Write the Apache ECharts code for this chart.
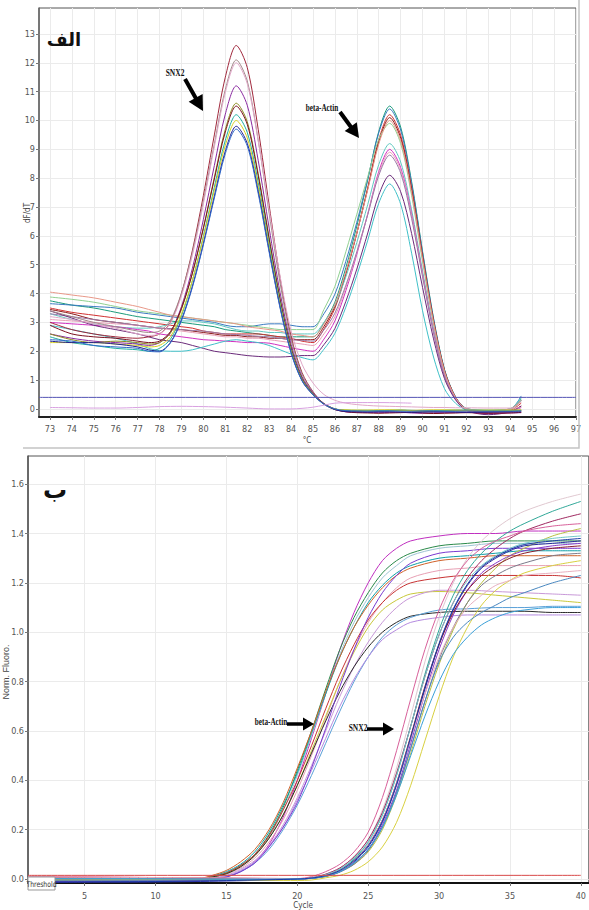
<!DOCTYPE html>
<html>
<head>
<meta charset="utf-8">
<script src="https://cdn.jsdelivr.net/npm/echarts@6/dist/echarts.min.js"></script>
<style>
html,body{margin:0;padding:0;background:#fff;}
#chart{width:589px;height:910px;}
</style>
</head>
<body>
<div id="chart"></div>
<script>
// ---------- Panel A (melt curve): temperatures and dF/dT values ----------
const meltTemps = [73,74,75,76,77,77.5,78,78.5,79,79.5,80,80.5,81,81.5,82,82.5,83,83.5,84,84.5,85,85.5,86,86.5,87,87.5,88,88.5,89,89.5,90,90.5,91,91.5,92,93,94,94.5];

const meltSnx2_1 = [3.0,2.75,2.6,2.5,2.45,2.5,2.6,3.0,4.0,5.5,7.4,9.5,11.5,12.6,11.84,9.7,7.06,4.54,2.52,1.26,0.6,0.18,0.0,-0.05,-0.06,-0.06,-0.07,-0.06,-0.05,-0.06,-0.08,-0.08,-0.07,-0.06,-0.06,-0.08,-0.07,-0.06];
const meltSnx2_2 = [3.4,3.2,3.0,2.85,2.7,2.65,2.7,3.08,4.02,5.43,7.21,9.19,11.07,12.1,11.37,9.32,6.78,4.36,2.42,1.21,0.58,0.17,-0.02,-0.08,-0.1,-0.1,-0.09,-0.1,-0.11,-0.1,-0.1,-0.12,-0.11,-0.1,-0.1,-0.12,-0.12,-0.1];
const meltSnx2_3 = [3.2,3.1,2.95,2.8,2.6,2.55,2.6,2.98,3.92,5.33,7.11,9.09,10.97,12.0,11.28,9.3,6.9,4.6,2.7,1.55,0.9,0.5,0.3,0.2,0.15,0.12,0.1,0.09,0.08,0.07,0.06,0.05,0.05,0.04,0.04,0.03,0.03,0.04];
const meltSnx2_4 = [2.6,2.45,2.35,2.3,2.25,2.2,2.3,2.66,3.55,4.88,6.57,8.44,10.22,11.2,10.53,8.62,6.27,4.03,2.24,1.12,0.56,0.19,0.0,-0.1,-0.12,-0.12,-0.13,-0.12,-0.12,-0.14,-0.15,-0.14,-0.13,-0.13,-0.12,-0.15,-0.14,-0.13];
const meltSnx2_5 = [2.6,2.4,2.3,2.35,2.3,2.25,2.3,2.63,3.46,4.71,6.28,8.03,9.69,10.6,9.96,8.16,5.94,3.82,2.12,1.06,0.53,0.18,0.0,-0.06,-0.07,-0.07,-0.06,-0.05,-0.05,-0.06,-0.07,-0.07,-0.06,-0.05,-0.05,-0.06,-0.06,-0.05];
const meltSnx2_6 = [2.9,2.6,2.5,2.45,2.35,2.3,2.35,2.68,3.49,4.71,6.26,7.97,9.6,10.5,9.87,8.09,5.88,3.78,2.1,1.05,0.52,0.17,-0.02,-0.1,-0.13,-0.14,-0.15,-0.14,-0.13,-0.12,-0.14,-0.16,-0.15,-0.14,-0.13,-0.15,-0.14,-0.12];
const meltSnx2_7 = [2.5,2.3,2.2,2.1,2.05,2.0,2.1,2.42,3.23,4.45,5.99,7.69,9.31,10.2,9.59,7.85,5.71,3.67,2.04,1.02,0.51,0.17,0.0,-0.04,-0.05,-0.05,-0.06,-0.05,-0.04,-0.05,-0.06,-0.06,-0.05,-0.04,-0.04,-0.05,-0.05,-0.04];
const meltSnx2_8 = [2.3,2.3,2.3,2.25,2.2,2.15,2.2,2.51,3.29,4.46,5.94,7.58,9.14,10.0,9.4,7.7,5.6,3.6,2.0,1.0,0.5,0.17,0.0,-0.03,-0.04,-0.04,-0.03,-0.03,-0.04,-0.05,-0.04,-0.03,-0.03,-0.04,-0.05,-0.04,-0.04,-0.03];
const meltSnx2_9 = [2.35,2.3,2.3,2.25,2.15,2.05,2.0,2.31,3.09,4.26,5.74,7.38,8.94,9.8,9.21,7.55,5.49,3.53,1.96,0.98,0.49,0.17,-0.02,-0.09,-0.1,-0.11,-0.1,-0.1,-0.11,-0.12,-0.11,-0.1,-0.1,-0.11,-0.12,-0.11,-0.1,-0.1];
const meltSnx2_10 = [2.4,2.35,2.2,2.15,2.1,2.0,1.98,2.29,3.06,4.22,5.69,7.31,8.85,9.7,9.12,7.47,5.43,3.49,1.94,0.97,0.49,0.16,0.0,-0.06,-0.07,-0.08,-0.07,-0.07,-0.08,-0.08,-0.07,-0.07,-0.08,-0.08,-0.07,-0.08,-0.08,-0.07];

const meltActin_1 = [3.75,3.6,3.5,3.35,3.2,3.15,3.1,3.05,3.0,2.95,2.9,2.85,2.75,2.7,2.65,2.6,2.55,2.5,2.5,2.5,2.5,2.98,3.7,4.9,6.34,7.94,9.62,10.5,9.77,7.88,5.46,3.15,1.37,0.42,0.02,-0.05,0.0,0.35];
const meltActin_2 = [3.65,3.6,3.55,3.5,3.35,3.3,3.25,3.2,3.15,3.1,3.05,3.0,2.9,2.85,2.85,2.9,2.95,2.95,2.9,2.85,2.85,3.3,3.98,5.12,6.47,7.98,9.57,10.4,9.67,7.8,5.41,3.12,1.35,0.42,0.0,-0.08,-0.02,0.45];
const meltActin_3 = [3.5,3.35,3.25,3.15,3.05,3.0,2.95,2.9,2.85,2.8,2.7,2.65,2.6,2.6,2.6,2.6,2.55,2.5,2.45,2.35,2.3,2.77,3.49,4.67,6.09,7.67,9.33,10.2,9.49,7.65,5.3,3.06,1.33,0.41,0.0,-0.1,-0.05,0.2];
const meltActin_4 = [3.45,3.3,3.1,3.0,2.9,2.85,2.8,2.78,2.75,2.7,2.65,2.6,2.55,2.55,2.5,2.5,2.45,2.45,2.4,2.4,2.4,2.86,3.56,4.71,6.1,7.64,9.25,10.1,9.39,7.58,5.25,3.03,1.31,0.4,-0.02,-0.12,-0.08,0.1];
const meltActin_5 = [3.88,3.8,3.7,3.55,3.4,3.35,3.3,3.25,3.2,3.15,3.1,3.05,3.0,2.95,2.9,2.85,2.8,2.75,2.75,2.75,2.75,3.45,4.25,5.45,6.75,8.05,9.35,9.9,9.2,7.4,5.1,2.95,1.25,0.38,0.0,-0.05,0.0,0.3];
const meltActin_6 = [3.3,3.1,2.95,2.85,2.8,2.8,2.85,2.95,3.05,3.05,3.0,2.95,2.85,2.75,2.7,2.7,2.65,2.65,2.6,2.6,2.6,3.0,3.59,4.58,5.77,7.09,8.47,9.2,8.56,6.9,4.78,2.76,1.2,0.37,0.0,-0.08,0.0,0.4];
const meltActin_7 = [3.0,2.95,2.9,2.85,2.75,2.7,2.6,2.55,2.5,2.45,2.4,2.38,2.35,2.33,2.3,2.3,2.28,2.2,2.12,2.05,2.0,2.42,3.05,4.1,5.36,6.76,8.23,9.0,8.37,6.75,4.68,2.7,1.17,0.36,-0.05,-0.15,-0.1,0.05];
const meltActin_8 = [3.1,3.05,3.0,2.95,2.9,2.85,2.8,2.75,2.7,2.65,2.6,2.55,2.5,2.5,2.45,2.45,2.4,2.35,2.3,2.25,2.2,2.6,3.2,4.21,5.42,6.76,8.16,8.9,8.28,6.68,4.63,2.67,1.16,0.36,0.0,-0.05,0.0,0.25];
const meltActin_9 = [3.3,3.2,3.1,3.0,2.9,2.85,2.8,2.78,2.75,2.72,2.7,2.65,2.6,2.58,2.55,2.52,2.5,2.45,2.4,2.38,2.35,2.74,3.32,4.29,5.45,6.74,8.09,8.8,8.18,6.6,4.58,2.64,1.14,0.35,0.0,-0.06,0.0,0.3];
const meltActin_10 = [3.4,3.15,2.9,2.75,2.6,2.5,2.4,2.35,2.3,2.2,2.1,2.0,1.95,1.9,1.85,1.82,1.8,1.8,1.82,1.85,1.85,2.23,2.79,3.73,4.85,6.1,7.41,8.1,7.53,6.08,4.21,2.43,1.05,0.32,-0.05,-0.2,-0.1,0.1];
const meltActin_11 = [2.9,2.75,2.6,2.45,2.25,2.1,2.02,2.0,2.0,2.05,2.15,2.25,2.35,2.4,2.35,2.3,2.2,2.05,1.9,1.78,1.7,2.07,2.62,3.53,4.63,5.85,7.13,7.8,7.1,5.4,3.4,1.8,0.7,0.2,-0.02,-0.05,0.0,0.3];
const meltActin_12 = [4.05,3.95,3.85,3.7,3.55,3.45,3.35,3.25,3.2,3.15,3.1,3.05,3.0,2.95,2.85,2.8,2.75,2.7,2.6,2.55,2.5,2.95,3.63,4.75,6.1,7.6,9.18,10.0,9.3,7.5,5.2,3.0,1.3,0.4,0.0,-0.06,0.0,0.3];

const meltNtcTemps = [73,74,75,76,77,78,79,80,81,82,83,84,84.5,85,85.5,86,87,88,89,89.5];
const meltNtcValues = [0.05,0.04,0.03,0.03,0.05,0.08,0.09,0.08,0.06,0.03,0.0,0.0,0.02,0.06,0.13,0.2,0.22,0.22,0.21,0.2];
const meltThreshold = 0.4;
const meltXRange = [72.5, 97];
const meltYRange = [-0.28, 13.9];
const meltXTicks = [73,74,75,76,77,78,79,80,81,82,83,84,85,86,87,88,89,90,91,92,93,94,95,96,97];
const meltYTicks = [0,1,2,3,4,5,6,7,8,9,10,11,12,13];

// ---------- Panel B (amplification): cycles and normalised fluorescence ----------
const ampActinCycles = [1,5,10,13,14,15,16,17,18,19,20,21,22,23,24,25,26,27,28,30,32,34,36,38,40];
const ampActin_1 = [0.005,0.004,-0.003,-0.003,0.0,0.01,0.03,0.07,0.14,0.25,0.40,0.57,0.75,0.93,1.08,1.2,1.29,1.34,1.37,1.39,1.40,1.40,1.41,1.41,1.41];
const ampActin_2 = [0.0,0.002,0.0,0.0,0.01,0.025,0.055,0.1,0.18,0.29,0.44,0.6,0.77,0.93,1.06,1.16,1.24,1.29,1.32,1.35,1.36,1.37,1.37,1.37,1.37];
const ampActin_3 = [0.008,0.006,0.004,0.0,0.01,0.02,0.05,0.1,0.17,0.28,0.42,0.58,0.75,0.91,1.04,1.14,1.22,1.27,1.31,1.34,1.35,1.36,1.36,1.36,1.36];
const ampActin_4 = [-0.004,-0.003,-0.002,0.0,0.012,0.03,0.06,0.11,0.19,0.3,0.43,0.59,0.75,0.9,1.02,1.12,1.19,1.24,1.27,1.3,1.31,1.32,1.33,1.33,1.33];
const ampActin_5 = [0.002,0.003,0.001,0.002,0.015,0.035,0.07,0.12,0.2,0.31,0.45,0.6,0.76,0.9,1.02,1.11,1.18,1.23,1.26,1.29,1.3,1.31,1.31,1.31,1.31];
const ampActin_6 = [0.012,0.01,0.006,0.0,0.005,0.02,0.045,0.085,0.15,0.24,0.36,0.5,0.65,0.8,0.93,1.04,1.12,1.18,1.22,1.25,1.26,1.27,1.27,1.27,1.27];
const ampActin_7 = [0.0,-0.002,0.0,0.0,0.01,0.025,0.055,0.1,0.175,0.28,0.4,0.54,0.69,0.83,0.95,1.05,1.12,1.17,1.2,1.22,1.23,1.23,1.23,1.23,1.22];
const ampActin_8 = [0.0,0.001,-0.002,0.0,0.008,0.022,0.05,0.095,0.165,0.26,0.38,0.52,0.66,0.8,0.92,1.02,1.09,1.13,1.155,1.165,1.16,1.15,1.14,1.13,1.12];
const ampActin_9 = [-0.006,-0.005,-0.004,0.0,0.004,0.015,0.04,0.075,0.135,0.22,0.33,0.46,0.6,0.74,0.86,0.96,1.04,1.1,1.14,1.17,1.17,1.165,1.16,1.155,1.15];
const ampActin_10 = [-0.012,-0.012,-0.01,-0.005,0.008,0.022,0.05,0.095,0.165,0.26,0.38,0.51,0.64,0.76,0.86,0.94,1.0,1.04,1.065,1.08,1.085,1.085,1.085,1.08,1.08];
const ampActin_11 = [-0.008,-0.008,-0.007,0.0,0.0,0.01,0.03,0.065,0.12,0.2,0.3,0.42,0.55,0.68,0.8,0.9,0.98,1.03,1.06,1.09,1.095,1.1,1.1,1.105,1.105];
const ampActin_12 = [0.004,0.003,0.002,0.0,0.003,0.012,0.035,0.07,0.13,0.21,0.32,0.44,0.57,0.7,0.81,0.9,0.97,1.01,1.04,1.06,1.07,1.07,1.07,1.07,1.07];
const ampActin_13 = [-0.002,-0.002,-0.004,-0.003,0.0,0.008,0.03,0.065,0.13,0.21,0.31,0.45,0.61,0.78,0.93,1.06,1.16,1.23,1.28,1.32,1.33,1.34,1.34,1.34,1.34];

const ampSnx2Cycles = [1,5,10,15,18,20,21,22,23,24,25,26,27,28,29,30,31,32,33,34,35,36,38,40];
const ampSnx2_1 = [0.006,0.005,0.004,0.002,0.0,0.0,0.005,0.02,0.045,0.09,0.16,0.28,0.45,0.66,0.88,1.06,1.2,1.3,1.37,1.42,1.46,1.49,1.53,1.56];
const ampSnx2_2 = [-0.004,-0.003,-0.003,0.0,0.0,0.0,0.004,0.015,0.04,0.08,0.15,0.26,0.42,0.62,0.83,1.01,1.15,1.25,1.32,1.37,1.41,1.44,1.49,1.53];
const ampSnx2_3 = [0.0,0.001,0.0,0.0,0.002,0.0,0.005,0.02,0.045,0.09,0.16,0.27,0.43,0.62,0.82,0.99,1.12,1.22,1.29,1.34,1.38,1.41,1.45,1.48];
const ampSnx2_4 = [0.01,0.008,0.006,0.004,0.003,0.002,0.01,0.03,0.06,0.11,0.19,0.33,0.52,0.73,0.93,1.09,1.21,1.29,1.34,1.37,1.39,1.41,1.43,1.44];
const ampSnx2_5 = [-0.006,-0.005,-0.004,-0.003,-0.002,0.0,0.003,0.01,0.03,0.06,0.11,0.2,0.34,0.51,0.7,0.87,1.01,1.12,1.2,1.26,1.31,1.34,1.39,1.42];
const ampSnx2_6 = [0.004,0.003,0.002,0.0,0.0,0.0,0.005,0.018,0.04,0.085,0.15,0.26,0.42,0.62,0.82,0.99,1.12,1.21,1.27,1.31,1.34,1.36,1.38,1.39];
const ampSnx2_7 = [-0.014,-0.013,-0.012,-0.008,-0.004,0.0,0.003,0.012,0.03,0.07,0.13,0.23,0.38,0.57,0.77,0.95,1.09,1.19,1.26,1.3,1.33,1.35,1.36,1.37];
const ampSnx2_8 = [-0.01,-0.009,-0.008,-0.005,-0.002,0.0,0.003,0.012,0.03,0.065,0.12,0.22,0.36,0.55,0.75,0.93,1.07,1.17,1.24,1.28,1.31,1.33,1.35,1.36];
const ampSnx2_9 = [0.006,0.006,0.005,0.003,0.002,0.0,0.004,0.014,0.035,0.075,0.14,0.24,0.39,0.58,0.78,0.95,1.08,1.17,1.23,1.27,1.3,1.32,1.34,1.35];
const ampSnx2_10 = [-0.002,-0.002,-0.001,0.0,0.0,0.0,0.003,0.01,0.028,0.06,0.115,0.21,0.35,0.53,0.72,0.89,1.02,1.12,1.19,1.23,1.26,1.28,1.31,1.32];
const ampSnx2_11 = [0.0,-0.001,-0.002,-0.004,-0.006,-0.006,-0.004,0.005,0.015,0.035,0.07,0.13,0.23,0.38,0.56,0.74,0.9,1.02,1.11,1.17,1.21,1.24,1.27,1.29];
const ampSnx2_12 = [0.008,0.007,0.006,0.004,0.002,0.0,0.004,0.014,0.035,0.075,0.14,0.24,0.39,0.57,0.75,0.9,1.02,1.1,1.15,1.19,1.21,1.23,1.24,1.25];
const ampSnx2_13 = [-0.005,-0.004,-0.004,-0.003,-0.002,0.0,0.003,0.012,0.03,0.065,0.12,0.21,0.35,0.53,0.72,0.88,0.98,1.04,1.08,1.11,1.14,1.16,1.2,1.23];
const ampSnx2_14 = [0.002,0.002,0.001,0.0,0.0,0.0,0.003,0.012,0.03,0.065,0.12,0.21,0.34,0.5,0.66,0.8,0.91,0.98,1.03,1.06,1.08,1.09,1.1,1.1];
const ampSnx2_15 = [-0.012,-0.011,-0.01,-0.006,-0.003,0.0,0.004,0.014,0.035,0.075,0.135,0.235,0.385,0.575,0.775,0.955,1.095,1.195,1.265,1.305,1.335,1.355,1.37,1.38];

const ampThreshold = 0.015;
const ampThresholdCycles = [1, 40];
const ampXRange = [1, 40.56];
const ampYRange = [-0.016, 1.714];
const ampXTicks = [5,10,15,20,25,30,35,40];
const ampYTicks = [0,0.2,0.4,0.6,0.8,1.0,1.2,1.4,1.6];

// ---------- styles (kept apart from data) ----------
const meltSnx2Curves = [meltSnx2_1,meltSnx2_2,meltSnx2_3,meltSnx2_4,meltSnx2_5,meltSnx2_6,meltSnx2_7,meltSnx2_8,meltSnx2_9,meltSnx2_10];
const meltSnx2Colors = ['#a0283c','#a08888','#e0a8c8','#8a2aa0','#8a8a20','#7a1020','#20b0a0','#d8d020','#202090','#3068c8'];
const meltActinCurves = [meltActin_1,meltActin_2,meltActin_3,meltActin_4,meltActin_5,meltActin_6,meltActin_7,meltActin_8,meltActin_9,meltActin_10,meltActin_11,meltActin_12];
const meltActinColors = ['#1a9a7a','#3a7ac0','#d03030','#8b1a1a','#90d090','#60c8c0','#d030c0','#e8a0b8','#9a7aa8','#6a2a7a','#40c0c8','#e89888'];
const ampActinCurves = [ampActin_1,ampActin_2,ampActin_3,ampActin_4,ampActin_5,ampActin_6,ampActin_7,ampActin_8,ampActin_9,ampActin_10,ampActin_11,ampActin_12,ampActin_13];
const ampActinColors = ['#c030c0','#2a8a4a','#9ec4d4','#10a0a8','#d0622a','#e8a0b4','#c83434','#c8c83a','#c898d8','#2a2a2a','#5aa0d8','#b48ae0','#7a3ad0'];
const ampSnx2Curves = [ampSnx2_1,ampSnx2_2,ampSnx2_3,ampSnx2_4,ampSnx2_5,ampSnx2_6,ampSnx2_7,ampSnx2_8,ampSnx2_9,ampSnx2_10,ampSnx2_11,ampSnx2_12,ampSnx2_13,ampSnx2_14,ampSnx2_15];
const ampSnx2Colors = ['#e0c8d0','#30a898','#a02860','#d8609a','#b8c040','#70c8c8','#2a2a9a','#8a3ac8','#8a1c2c','#7a7a8a','#d8d040','#e8b0c0','#4a88c0','#3aa0d8','#1a3aa8'];

const tickFont = "'Liberation Sans Narrow','DejaVu Sans Condensed','Liberation Sans',sans-serif";
const annFont = "'Liberation Serif','DejaVu Serif',serif";

function lineSeries(xs, ys, color, xi, yi, z) {
  return {
    type: 'line', xAxisIndex: xi, yAxisIndex: yi,
    data: xs.map((x, i) => [x, ys[i]]),
    showSymbol: false, symbol: 'none', smooth: 0.3,
    lineStyle: { width: 1, color: color }, itemStyle: { color: color },
    silent: true, animation: false, z: z || 2
  };
}

const series = [];
meltActinCurves.forEach((c, i) => series.push(lineSeries(meltTemps, c, meltActinColors[i], 0, 0)));
meltSnx2Curves.forEach((c, i) => series.push(lineSeries(meltTemps, c, meltSnx2Colors[i], 0, 0)));
series.push(lineSeries(meltNtcTemps, meltNtcValues, '#d8a0e0', 0, 0));
series.push(lineSeries(meltXRange, meltXRange.map(() => meltThreshold), '#5454b4', 0, 0, 3));
ampActinCurves.forEach((c, i) => series.push(lineSeries(ampActinCycles, c, ampActinColors[i], 1, 1)));
ampSnx2Curves.forEach((c, i) => series.push(lineSeries(ampSnx2Cycles, c, ampSnx2Colors[i], 1, 1)));
series.push(lineSeries(ampThresholdCycles, ampThresholdCycles.map(() => ampThreshold), '#d84848', 1, 1, 3));

function valueAxis(grid, range, ticks, fmt, lineColor, lineWidth, margin) {
  return {
    type: 'value', gridIndex: grid, min: range[0], max: range[1],
    axisLine: { show: true, onZero: false, lineStyle: { color: lineColor, width: lineWidth } },
    axisTick: { show: true, customValues: ticks, length: 3, lineStyle: { color: '#777' } },
    axisLabel: { customValues: ticks, fontSize: 9, color: '#555', fontFamily: tickFont, margin: margin, formatter: fmt },
    splitLine: { show: true, lineStyle: { color: '#ebebeb', width: 1 } }
  };
}

function arrow(x1, y1, x2, y2, hl, hw, lw) {
  const dx = x2 - x1, dy = y2 - y1, L = Math.sqrt(dx*dx + dy*dy);
  const ux = dx / L, uy = dy / L;
  const bx = x2 - ux * hl, by = y2 - uy * hl;
  return [
    { type: 'line', shape: { x1: x1, y1: y1, x2: bx + ux, y2: by + uy }, style: { stroke: '#000', lineWidth: lw }, z: 100 },
    { type: 'polygon', shape: { points: [[x2, y2], [bx - uy * hw, by + ux * hw], [bx + uy * hw, by - ux * hw]] }, style: { fill: '#000' }, z: 100 }
  ];
}

const chart = echarts.init(document.getElementById('chart'), null, { renderer: 'svg' });
chart.setOption({
  backgroundColor: '#ffffff',
  animation: false,
  grid: [
    { left: 39, top: 8, width: 537, height: 409, show: true, borderColor: '#555', borderWidth: 1, containLabel: false },
    { left: 28, top: 456, width: 563, height: 427, show: true, borderColor: '#555', borderWidth: 1, containLabel: false }
  ],
  xAxis: [
    valueAxis(0, meltXRange, meltXTicks, v => String(v), '#222', 2, 7),
    valueAxis(1, ampXRange, ampXTicks, v => String(v), '#111', 2, 8)
  ],
  yAxis: [
    valueAxis(0, meltYRange, meltYTicks, v => String(v), '#666', 1.5, 4),
    valueAxis(1, ampYRange, ampYTicks, v => v.toFixed(1), '#555', 1.5, 4)
  ],
  series: series,
  graphic: [
    { type: 'polyline', shape: { points: [[23, 448], [579, 448], [579, 0]] }, style: { stroke: '#c4c4c4', lineWidth: 1.5, fill: null }, z: 90 },
    { type: 'text', x: 27, y: 213, rotation: Math.PI / 2, style: { text: 'dF/dT', fontSize: 8, fill: '#444', fontFamily: tickFont, align: 'center', verticalAlign: 'middle' }, z: 100 },
    { type: 'text', x: 307, y: 440, style: { text: '°C', fontSize: 8, fill: '#444', fontFamily: tickFont, align: 'center', verticalAlign: 'middle' }, z: 100 },
    { type: 'text', x: 6, y: 672, rotation: Math.PI / 2, style: { text: 'Norm. Fluoro.', fontSize: 9, fill: '#444', fontFamily: "'Liberation Sans','DejaVu Sans',sans-serif", align: 'center', verticalAlign: 'middle' }, z: 100 },
    { type: 'text', x: 303, y: 905, style: { text: 'Cycle', fontSize: 8, fill: '#444', fontFamily: tickFont, align: 'center', verticalAlign: 'middle' }, z: 100 },
    { type: 'text', x: 64, y: 39, style: { text: 'الف', fontSize: 18, fontWeight: 'bold', fill: '#111', fontFamily: "'DejaVu Sans','Noto Sans',sans-serif", align: 'center', verticalAlign: 'middle' }, z: 100 },
    { type: 'text', x: 55, y: 490, style: { text: 'ب', fontSize: 24, fontWeight: 'bold', fill: '#111', fontFamily: "'DejaVu Sans','Noto Sans',sans-serif", align: 'center', verticalAlign: 'middle' }, z: 100 },
    { type: 'text', x: 175, y: 73, scaleX: 0.75, style: { text: 'SNX2', fontSize: 10, fontWeight: 'bold', fill: '#111', fontFamily: annFont, align: 'center', verticalAlign: 'middle' }, z: 100 },
    { type: 'text', x: 322, y: 108, scaleX: 0.72, style: { text: 'beta-Actin', fontSize: 10, fontWeight: 'bold', fill: '#111', fontFamily: annFont, align: 'center', verticalAlign: 'middle' }, z: 100 },
    { type: 'text', x: 271, y: 722, scaleX: 0.72, style: { text: 'beta-Actin', fontSize: 10, fontWeight: 'bold', fill: '#111', fontFamily: annFont, align: 'center', verticalAlign: 'middle' }, z: 100 },
    { type: 'text', x: 358, y: 728, scaleX: 0.75, style: { text: 'SNX2', fontSize: 10, fontWeight: 'bold', fill: '#111', fontFamily: annFont, align: 'center', verticalAlign: 'middle' }, z: 100 },
    ...arrow(185, 79, 203, 111, 15, 8, 4),
    ...arrow(340, 112, 359, 138, 14, 7.5, 4),
    ...arrow(287, 724, 314, 724, 11, 6.5, 3.5),
    ...arrow(367, 729, 394, 729, 11, 6.5, 3.5),
    { type: 'rect', shape: { x: 28, y: 877, width: 27, height: 13 }, style: { fill: '#fff', stroke: '#999', lineWidth: 1 }, z: 100 },
    { type: 'text', x: 41.5, y: 884, scaleX: 0.85, style: { text: 'Threshold', fontSize: 8, fill: '#333', fontFamily: tickFont, align: 'center', verticalAlign: 'middle' }, z: 101 }
  ]
});
</script>
</body>
</html>
